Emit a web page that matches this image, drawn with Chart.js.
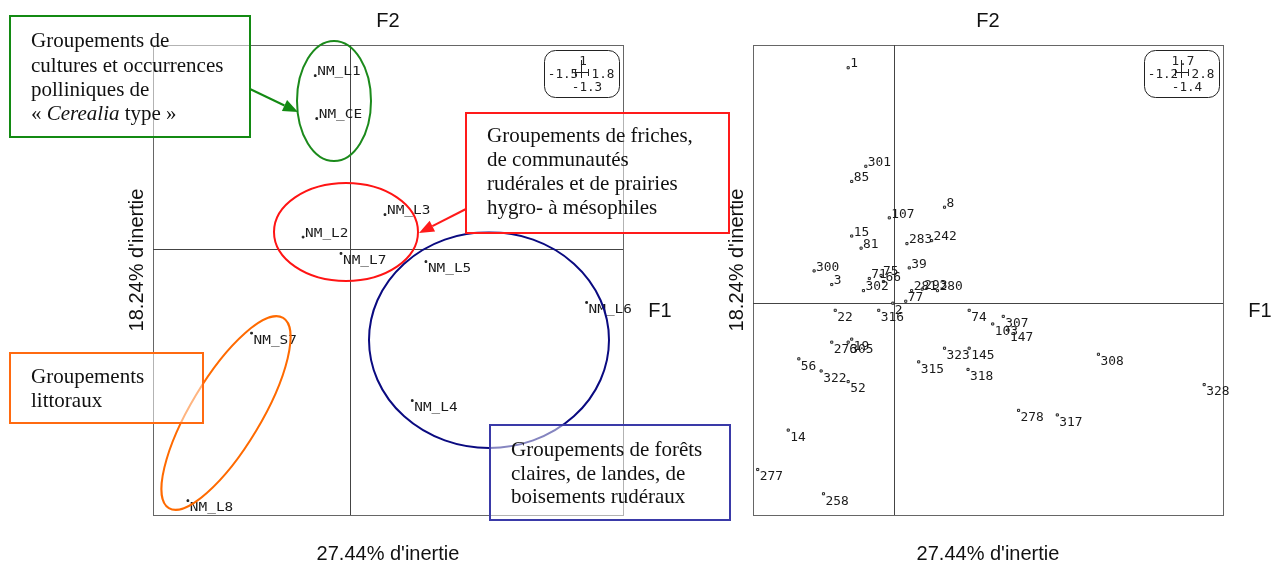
<!DOCTYPE html>
<html>
<head>
<meta charset="utf-8">
<script src="https://cdn.jsdelivr.net/npm/chart.js@4.4.1/dist/chart.umd.min.js"></script>
<style>
html, body { margin: 0; padding: 0; background: #fff; }
#wrap { position: relative; width: 1280px; height: 568px; }
#wrap canvas { position: absolute; left: 0; top: 0; }
</style>
</head>
<body>
<div id="wrap">
  <canvas id="right-canvas" width="1280" height="568"></canvas>
  <canvas id="left-canvas" width="1280" height="568"></canvas>
</div>
<script>
"use strict";
// left map: groupings (F1 x F2)
const leftNames = ["NM_L1", "NM_CE", "NM_L3", "NM_L2", "NM_L7", "NM_L5", "NM_L6", "NM_S7", "NM_L4", "NM_L8"];
const leftF1 = [-0.23, -0.22, 0.23, -0.31, -0.06, 0.50, 1.56, -0.65, 0.41, -1.07];
const leftF2 = [0.85, 0.64, 0.17, 0.06, -0.02, -0.06, -0.26, -0.41, -0.74, -1.23];
const leftBox = ["1", "-1.5", "1.8", "-1.3"];

// right map: samples
const rightNames = ["1", "301", "85", "107", "8", "15", "81", "283", "242", "39",
    "300", "3", "71", "75", "66", "302", "281", "293", "280", "77",
    "2", "22", "316", "74", "307", "103", "147", "323", "145", "315",
    "318", "276", "305", "19", "56", "322", "52", "14", "277", "258",
    "308", "328", "278", "317"];
const rightF1 = [-0.39, -0.24, -0.36, -0.04, 0.43, -0.36, -0.28, 0.11, 0.32, 0.13,
    -0.68, -0.53, -0.21, -0.11, -0.09, -0.26, 0.15, 0.24, 0.37, 0.10,
    -0.01, -0.50, -0.13, 0.64, 0.93, 0.84, 0.97, 0.43, 0.64, 0.21,
    0.63, -0.53, -0.39, -0.36, -0.81, -0.62, -0.39, -0.90, -1.16, -0.60,
    1.74, 2.64, 1.06, 1.39];
const rightF2 = [1.55, 0.90, 0.80, 0.56, 0.63, 0.44, 0.36, 0.39, 0.41, 0.23,
    0.21, 0.12, 0.16, 0.18, 0.14, 0.08, 0.08, 0.09, 0.08, 0.01,
    -0.003, -0.05, -0.05, -0.05, -0.09, -0.14, -0.18, -0.30, -0.30, -0.39,
    -0.44, -0.26, -0.26, -0.24, -0.37, -0.45, -0.52, -0.84, -1.10, -1.26,
    -0.34, -0.54, -0.71, -0.74];
const rightBox = ["1.7", "-1.2", "2.8", "-1.4"];

const axisTitleX = "27.44% d'inertie";
const axisTitleY = "18.24% d'inertie";

// hand drawn overlays on the left map
const noteEllipses = [
    { cx: 334, cy: 101, rx: 37, ry: 60, rot: 0, color: "#1b8a1b" },
    { cx: 346, cy: 232, rx: 72, ry: 49, rot: 0, color: "#ff1414" },
    { cx: 489, cy: 340, rx: 120, ry: 108, rot: 0, color: "#0a0a80" },
    { cx: 226, cy: 413, rx: 111, ry: 35, rot: -1.03, color: "#ff6a00" },
];
const noteBoxes = [
    { x: 10, y: 16, w: 240, h: 121, color: "#138a13", tx: 31, ty: [47, 71.5, 96, 120],
      lines: [[["Groupements de", false]], [["cultures et occurrences", false]], [["polliniques de", false]],
              [["« ", false], ["Cerealia", true], [" type »", false]]] },
    { x: 466, y: 113, w: 263, h: 120, color: "#ff1a1a", tx: 487, ty: [142, 166, 190, 213.5],
      lines: [[["Groupements de friches,", false]], [["de communautés", false]],
              [["rudérales et de prairies", false]], [["hygro- à mésophiles", false]]] },
    { x: 10, y: 353, w: 193, h: 70, color: "#ff6a10", tx: 31, ty: [383, 407],
      lines: [[["Groupements", false]], [["littoraux", false]]] },
    { x: 490, y: 425, w: 240, h: 95, color: "#3a3aa8", tx: 511, ty: [456, 479.5, 503],
      lines: [[["Groupements de forêts", false]], [["claires, de landes, de", false]],
              [["boisements rudéraux", false]]] },
];
const noteArrows = [
    { x1: 250, y1: 89, x2: 298, y2: 112, color: "#138a13" },
    { x1: 466, y1: 209, x2: 419, y2: 233, color: "#ff1a1a" },
];

function monoText(ctx, str, x, y, size, sx, align) {
    ctx.save();
    ctx.translate(x, y);
    ctx.scale(sx, 1);
    ctx.font = size + "px 'DejaVu Sans Mono'";
    ctx.textAlign = align || "left";
    ctx.fillText(str, 0, 0);
    ctx.restore();
}

function drawNotes(ctx) {
    ctx.save();
    ctx.lineWidth = 2;
    noteEllipses.forEach(e => {
        ctx.strokeStyle = e.color;
        ctx.beginPath();
        ctx.ellipse(e.cx, e.cy, e.rx, e.ry, e.rot, 0, Math.PI * 2);
        ctx.stroke();
    });
    noteArrows.forEach(a => {
        let ang = Math.atan2(a.y2 - a.y1, a.x2 - a.x1);
        let len = 15, half = 6;
        let bx = a.x2 - len * Math.cos(ang), by = a.y2 - len * Math.sin(ang);
        ctx.strokeStyle = a.color;
        ctx.fillStyle = a.color;
        ctx.beginPath();
        ctx.moveTo(a.x1, a.y1);
        ctx.lineTo(bx, by);
        ctx.stroke();
        ctx.beginPath();
        ctx.moveTo(a.x2, a.y2);
        ctx.lineTo(bx + half * Math.sin(ang), by - half * Math.cos(ang));
        ctx.lineTo(bx - half * Math.sin(ang), by + half * Math.cos(ang));
        ctx.closePath();
        ctx.fill();
    });
    noteBoxes.forEach(b => {
        ctx.fillStyle = "rgba(255,255,255,0.5)";
        ctx.fillRect(b.x, b.y, b.w, b.h);
        ctx.strokeStyle = b.color;
        ctx.strokeRect(b.x, b.y, b.w, b.h);
        ctx.fillStyle = "#111";
        ctx.textBaseline = "alphabetic";
        ctx.textAlign = "left";
        b.lines.forEach((segs, i) => {
            let x = b.tx;
            segs.forEach(s => {
                ctx.font = (s[1] ? "italic " : "") + "21px 'Liberation Serif'";
                ctx.fillText(s[0], x, b.ty[i]);
                x += ctx.measureText(s[0]).width;
            });
        });
    });
    ctx.restore();
}

function panelPlugin(opts) {
    return {
        id: "panel",
        beforeDatasetsDraw(chart) {
            let ctx = chart.ctx, a = chart.chartArea;
            let x0 = Math.round(chart.scales.x.getPixelForValue(0)) + 0.5;
            let y0 = Math.round(chart.scales.y.getPixelForValue(0)) + 0.5;
            ctx.save();
            ctx.lineWidth = 1;
            ctx.strokeStyle = "#666";
            ctx.strokeRect(a.left + 0.5, a.top + 0.5, a.right - a.left, a.bottom - a.top);
            ctx.strokeStyle = "#444";
            ctx.beginPath();
            ctx.moveTo(x0, a.top);
            ctx.lineTo(x0, a.bottom);
            ctx.moveTo(a.left, y0);
            ctx.lineTo(a.right, y0);
            ctx.stroke();
            ctx.restore();
        },
        afterDatasetsDraw(chart) {
            let ctx = chart.ctx, a = chart.chartArea;
            let ds = chart.data.datasets[0];
            let meta = chart.getDatasetMeta(0);
            ctx.save();
            ctx.fillStyle = "#1a1a1a";
            ctx.textBaseline = "middle";
            meta.data.forEach((pt, i) => {
                let dy = ds.data[i].y >= 0 ? -3.5 : 7.5;
                monoText(ctx, opts.names[i], pt.x + 2, pt.y + dy, opts.fontSize, opts.stretch);
            });
            // scale box
            let R = a.right;
            ctx.strokeStyle = "#222";
            ctx.lineWidth = 1;
            ctx.beginPath();
            ctx.roundRect(R - 78.5, 50.5, 75, 47, 11);
            ctx.stroke();
            ctx.fillStyle = "#222";
            monoText(ctx, opts.box[0], R - 40, 62, 11.5, 1.1, "center");
            monoText(ctx, opts.box[1], R - 60, 75, 11.5, 1.1, "center");
            monoText(ctx, opts.box[2], R - 20, 75, 11.5, 1.1, "center");
            monoText(ctx, opts.box[3], R - 36, 88, 11.5, 1.1, "center");
            let cx = R - 41.5;
            ctx.beginPath();
            ctx.moveTo(cx, 60); ctx.lineTo(cx, 78);
            ctx.moveTo(cx - 6, 72.5); ctx.lineTo(cx + 7, 72.5);
            ctx.moveTo(cx - 6, 69); ctx.lineTo(cx - 6, 76);
            ctx.moveTo(cx + 7, 69); ctx.lineTo(cx + 7, 76);
            ctx.stroke();
            // axis titles
            ctx.fillStyle = "#111";
            ctx.font = "20px 'Liberation Sans'";
            ctx.textAlign = "center";
            ctx.textBaseline = "middle";
            let mid = (a.left + a.right) / 2;
            ctx.fillText("F2", mid, 21);
            ctx.fillText("F1", a.right + 37, 311);
            ctx.fillText(axisTitleX, mid, 554);
            ctx.save();
            ctx.translate(a.left - 16, 260);
            ctx.rotate(-Math.PI / 2);
            ctx.fillText(axisTitleY, 0, 0);
            ctx.restore();
            ctx.restore();
            if (opts.notes) {
                drawNotes(ctx);
            }
        },
    };
}

function makeMap(canvasId, names, xs, ys, xr, yr, pad, box, style) {
    let ctx = document.getElementById(canvasId).getContext("2d");
    let points = xs.map((x, i) => ({ x: x, y: ys[i] }));
    return new Chart(ctx, {
        type: "scatter",
        data: {
            datasets: [{
                data: points,
                pointStyle: "rect",
                pointRadius: style.radius,
                backgroundColor: style.fill,
                borderColor: "#222",
                borderWidth: 1,
            }],
        },
        options: {
            responsive: false,
            animation: false,
            layout: { padding: pad },
            plugins: { legend: { display: false }, tooltip: { enabled: false } },
            events: [],
            scales: {
                x: { type: "linear", min: xr[0], max: xr[1], display: false },
                y: { type: "linear", min: yr[0], max: yr[1], display: false },
            },
        },
        plugins: [panelPlugin({ names: names, box: box, fontSize: style.fontSize, stretch: style.stretch, notes: style.notes })],
    });
}

makeMap("right-canvas", rightNames, rightF1, rightF2, [-1.2, 2.8], [-1.4, 1.7],
    { left: 753, right: 57, top: 45, bottom: 53 }, rightBox,
    { radius: 1.5, fill: "#fff", fontSize: 12.5, stretch: 1.03, notes: false });
makeMap("left-canvas", leftNames, leftF1, leftF2, [-1.3, 1.8], [-1.3, 1.0],
    { left: 153, right: 657, top: 45, bottom: 53 }, leftBox,
    { radius: 1.2, fill: "#222", fontSize: 12, stretch: 1.2, notes: true });
</script>
</body>
</html>
